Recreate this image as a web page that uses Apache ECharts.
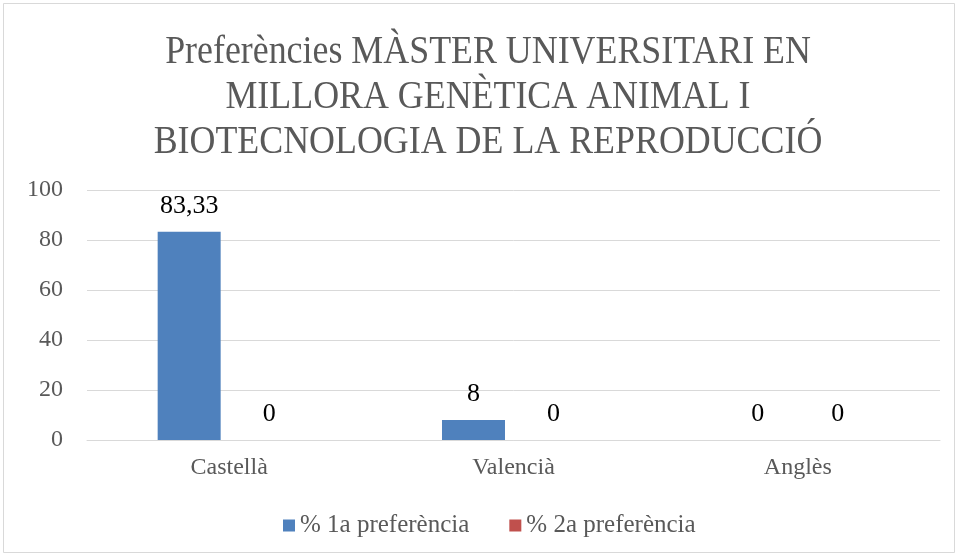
<!DOCTYPE html>
<html>
<head>
<meta charset="utf-8">
<script src="https://cdn.jsdelivr.net/npm/echarts@6/dist/echarts.min.js"></script>
<style>
  html, body { margin: 0; padding: 0; background: #fff; }
  #chart { width: 958px; height: 558px; }
</style>
</head>
<body>
<div id="chart"></div>
<script>
// dades
const categories = ['Castellà', 'Valencià', 'Anglès'];
const seriesNames = ['% 1a preferència', '% 2a preferència'];
const primera = [83.33, 8, 0];
const segona = [0, 0, 0];
const yTicks = { min: 0, max: 100, interval: 20 };
const titleText = 'Preferències MÀSTER UNIVERSITARI EN\nMILLORA GENÈTICA ANIMAL I\nBIOTECNOLOGIA DE LA REPRODUCCIÓ';

const FONT = '"Liberation Serif", "DejaVu Serif", serif';
const chart = echarts.init(document.getElementById('chart'));

function fmt(p) {
  return String(p.value).replace('.', ',');
}

const labelStyle = {
  show: true, position: 'top', distance: 13, formatter: fmt,
  fontFamily: FONT, fontSize: 26, color: '#000'
};

chart.setOption({
  animation: false,
  backgroundColor: '#fff',
  graphic: [
    {
      type: 'rect',
      shape: { x: 3.5, y: 3.5, width: 951, height: 549 },
      style: { fill: 'none', stroke: '#d9d9d9', lineWidth: 1 }
    },
    {
      // titol estret i alt, com l'original
      type: 'text',
      x: 488,
      y: 30,
      scaleX: 0.875,
      style: {
        text: titleText,
        textAlign: 'center',
        textVerticalAlign: 'top',
        fontFamily: FONT,
        fontSize: 41,
        lineHeight: 45,
        fill: '#595959'
      }
    }
  ],
  legend: {
    top: 508,
    left: 278,
    itemWidth: 12,
    itemHeight: 12,
    itemGap: 40,
    icon: 'rect',
    textStyle: { fontFamily: FONT, fontSize: 25, color: '#595959' },
    data: seriesNames
  },
  grid: { left: 87, right: 18, top: 190, bottom: 118, containLabel: false },
  xAxis: {
    type: 'category',
    data: categories,
    axisLine: { lineStyle: { color: '#d9d9d9' } },
    axisTick: { show: false },
    axisLabel: { fontFamily: FONT, fontSize: 24, color: '#595959', margin: 16 }
  },
  yAxis: {
    type: 'value',
    min: yTicks.min,
    max: yTicks.max,
    interval: yTicks.interval,
    axisLine: { show: false },
    axisTick: { show: false },
    splitLine: { lineStyle: { color: '#d9d9d9' } },
    axisLabel: { fontFamily: FONT, fontSize: 24, color: '#595959', margin: 24 }
  },
  series: [
    {
      name: seriesNames[0],
      type: 'bar',
      data: primera,
      barWidth: 63,
      barGap: '27%',
      itemStyle: { color: '#4F81BD' },
      label: labelStyle
    },
    {
      name: seriesNames[1],
      type: 'bar',
      data: segona,
      barWidth: 63,
      barGap: '27%',
      itemStyle: { color: '#C0504D' },
      label: labelStyle
    }
  ]
});
</script>
</body>
</html>
